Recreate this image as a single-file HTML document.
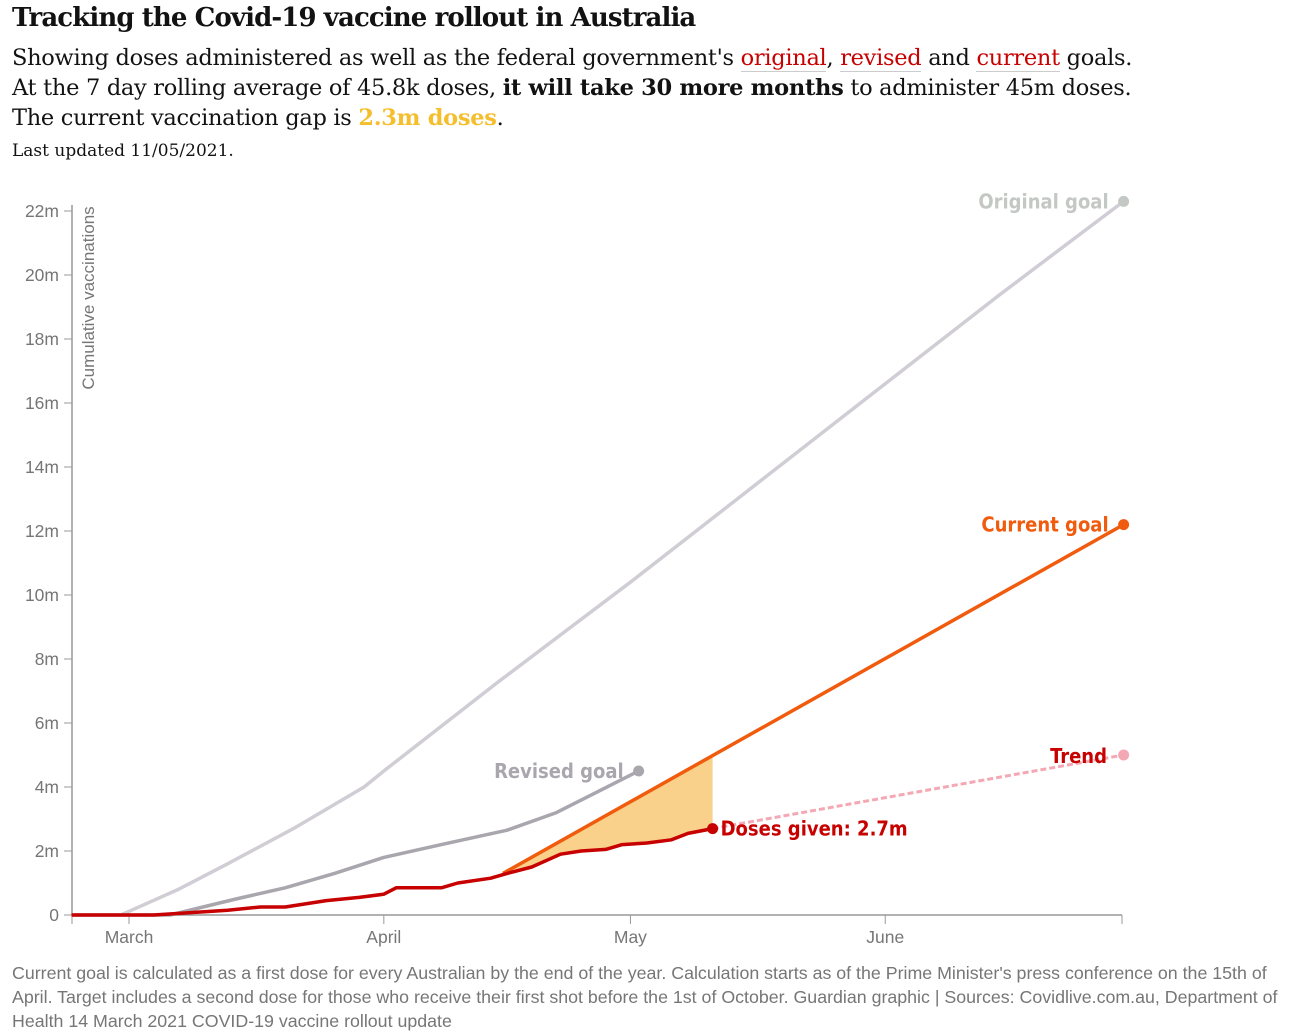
<!DOCTYPE html>
<html><head><meta charset="utf-8"><style>
body{margin:0;background:#fff;width:1311px;height:1036px;overflow:hidden;font-family:"DejaVu Serif",serif;color:#121212}
#title{position:absolute;left:12px;top:3px;font-size:26px;font-weight:bold;letter-spacing:-0.9px}
.sub{position:absolute;left:12px;font-size:22.5px;letter-spacing:-0.3px}
#upd{position:absolute;left:12px;top:141px;font-size:17px}
#foot{position:absolute;left:12px;top:961px;width:1285px;font-family:"Liberation Sans",sans-serif;font-size:17.8px;line-height:24px;color:#767676}
u{text-decoration:none;border-bottom:1px solid #ccc}
</style></head><body>
<div id="title">Tracking the Covid-19 vaccine rollout in Australia</div>
<div class="sub" style="top:45px">Showing doses administered as well as the federal government's <u style="color:#c70000">original</u>, <u style="color:#c70000">revised</u> and <u style="color:#c70000">current</u> goals.</div>
<div class="sub" style="top:75px">At the 7 day rolling average of 45.8k doses, <b>it will take 30 more months</b> to administer 45m doses.</div>
<div class="sub" style="top:105px">The current vaccination gap is <b style="color:#f5be2c">2.3m doses</b>.</div>
<div id="upd">Last updated 11/05/2021.</div>
<svg id="chart" width="1311" height="1036" style="position:absolute;left:0;top:0"></svg>
<div id="foot">Current goal is calculated as a first dose for every Australian by the end of the year. Calculation starts as of the Prime Minister's press conference on the 15th of April. Target includes a second dose for those who receive their first shot before the 1st of October. Guardian graphic | Sources: Covidlive.com.au, Department of Health 14 March 2021 COVID-19 vaccine rollout update</div>
<script>
// day index = days since 1 March 2021; values in millions
const yTicks=[0,2,4,6,8,10,12,14,16,18,20,22];
const monthLabels=["March","April","May","June"];
const monthDays=[0,31,61,92];
const originalDays=[-7,-1,6,12,20,28.6,31,45,61,77,92,106,121];
const originalVals=[0,0,0.8,1.6,2.7,4.0,4.5,7.3,10.4,13.6,16.6,19.4,22.3];
const revisedDays=[-7,5,9,13,19,25,31,38,46,52,57,62];
const revisedVals=[0,0,0.25,0.5,0.85,1.3,1.8,2.2,2.65,3.2,3.85,4.5];
const dosesDays=[-7,3,8,12,16,19,24,28,31,32.5,38,40,44,46,49,52.5,55,58,60,63,66,68,71];
const dosesVals=[0,0,0.08,0.15,0.25,0.25,0.45,0.55,0.65,0.85,0.85,1.0,1.15,1.3,1.5,1.9,2.0,2.05,2.2,2.25,2.35,2.55,2.7];
const currentDays=[45.5,121];
const currentVals=[1.3,12.2];
const trendDays=[71,121];
const trendVals=[2.7,5.0];

const svg=document.getElementById('chart');
const NS='http://www.w3.org/2000/svg';
const x=d=>129+d*8.22;
const y=v=>915-v*32;
function mk(tag,attrs){const e=document.createElementNS(NS,tag);for(const k in attrs)e.setAttribute(k,attrs[k]);svg.appendChild(e);return e;}
function pts(ds,vs){return ds.map((d,i)=>x(d).toFixed(1)+','+y(vs[i]).toFixed(1)).join(' ');}
let e=mk('line',{x1:72,y1:205,x2:72,y2:915,stroke:'#999','stroke-width':1.5});

e=mk('line',{x1:72,y1:915,x2:1122,y2:915,stroke:'#999','stroke-width':1.5});

yTicks.forEach(t=>{
 let l=mk('line',{x1:64,x2:72,y1:y(t),y2:y(t),stroke:'#999'});
 
 let tx=mk('text',{x:59,y:y(t)+6,'text-anchor':'end','font-family':'Liberation Sans, sans-serif','font-size':17.5,fill:'#767676'});
 tx.textContent=t===0?'0':t+'m';
 
});
[72,1122].forEach(px=>{let l=mk('line',{x1:px,x2:px,y1:915,y2:924,stroke:'#999'});});
monthDays.forEach((d,i)=>{
 let l=mk('line',{x1:x(d),x2:x(d),y1:915,y2:924,stroke:'#999'});
 
 let tx=mk('text',{x:x(d),y:943,'text-anchor':'middle','font-family':'Liberation Sans, sans-serif','font-size':17.5,fill:'#767676'});
 tx.textContent=monthLabels[i];
 
});
e=mk('text',{transform:'translate(94,298) rotate(-90)','text-anchor':'middle','font-family':'Liberation Sans, sans-serif','font-size':17,fill:'#767676'});
e.textContent='Cumulative vaccinations';

const gapD=dosesDays.filter(d=>d>=45.5);const gapV=dosesVals.filter((v,i)=>dosesDays[i]>=45.5);
const slope=(currentVals[1]-currentVals[0])/(currentDays[1]-currentDays[0]);
const cAt=d=>currentVals[0]+slope*(d-currentDays[0]);
const end=gapD[gapD.length-1];
let poly=x(currentDays[0])+','+y(currentVals[0])+' '+x(end)+','+y(cAt(end))+' ';
for(let i=gapD.length-1;i>=0;i--)poly+=x(gapD[i])+','+y(gapV[i])+' ';
e=mk('polygon',{points:poly,fill:'#f9c976',opacity:0.85});

e=mk('polyline',{points:pts(originalDays,originalVals),fill:'none',stroke:'#d0cdd4','stroke-width':3.5,'stroke-linejoin':'round'});

e=mk('polyline',{points:pts(revisedDays,revisedVals),fill:'none',stroke:'#a9a6ae','stroke-width':3.5,'stroke-linejoin':'round'});

e=mk('polyline',{points:pts(trendDays,trendVals),fill:'none',stroke:'#f4a8b4','stroke-width':3,'stroke-dasharray':'6,3'});

e=mk('polyline',{points:pts(currentDays,currentVals),fill:'none',stroke:'#f05b0d','stroke-width':3.5});

e=mk('polyline',{points:pts(dosesDays,dosesVals),fill:'none',stroke:'#c70000','stroke-width':3.5,'stroke-linejoin':'round'});

function endLabel(ds,vs,col,txt,name,dx,dy,anchor){
 const d=ds[ds.length-1],v=vs[vs.length-1];
 let c=mk('circle',{cx:x(d),cy:y(v),r:5.5,fill:col});
 
 let t=mk('text',{x:x(d)+dx,y:y(v)+dy,'text-anchor':anchor,'font-family':'DejaVu Sans Condensed, Liberation Sans Narrow, sans-serif','font-weight':'bold','font-size':20,fill:col});
 t.textContent=txt;
}
endLabel(originalDays,originalVals,'#c4c8c4','Original goal','original-goal',-15,7,'end');
endLabel(revisedDays,revisedVals,'#a9a6ae','Revised goal','revised-goal',-15,7,'end');
endLabel(currentDays,currentVals,'#f05b0d','Current goal','current-goal',-15,7,'end');
endLabel(trendDays,trendVals,'#f4a8b4','','trend',0,0,'end');
e=mk('text',{x:1107,y:763,'text-anchor':'end','font-family':'DejaVu Sans Condensed, sans-serif','font-weight':'bold','font-size':20,fill:'#c70000'});
e.textContent='Trend';
endLabel(dosesDays,dosesVals,'#c70000','Doses given: 2.7m','doses-given',8,7,'start');
</script>
</body></html>
